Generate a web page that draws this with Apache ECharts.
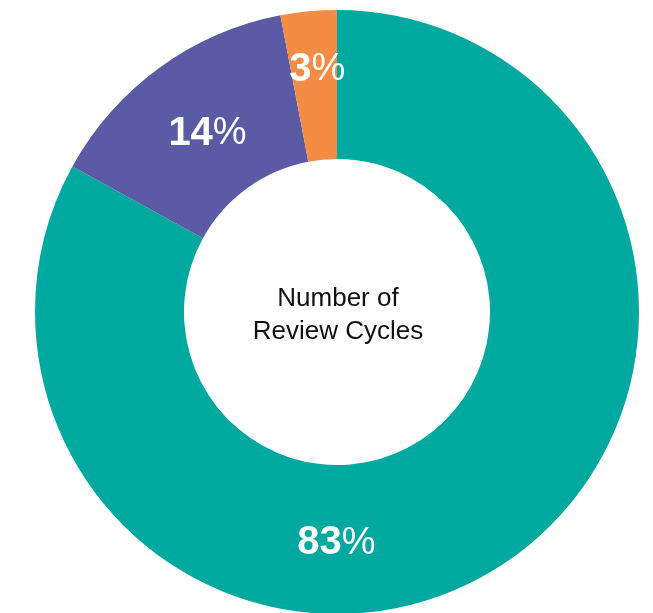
<!DOCTYPE html>
<html>
<head>
<meta charset="utf-8">
<script src="https://cdn.jsdelivr.net/npm/echarts@6/dist/echarts.min.js"></script>
<style>
html,body{margin:0;padding:0;background:#fff;}
#chart{width:653px;height:613px;}
</style>
</head>
<body>
<div id="chart"></div>
<script>
const categories = ['1 cycle', '2 cycles', '3+ cycles'];
const values = [83, 14, 3];
const colors = ['#00A99F', '#5B5BA5', '#F58C45'];
const labelOffsets = [[-118, 33], [6, 8], [2, -13]];
const centerText = 'Number of\nReview Cycles';

const chart = echarts.init(document.getElementById('chart'));
chart.setOption({
  animation: false,
  graphic: [{
    type: 'text',
    x: 338, y: 315,
    style: {
      text: centerText,
      fontFamily: 'Liberation Sans, Arial, sans-serif',
      fontSize: 26,
      lineHeight: 33,
      fill: '#111',
      textAlign: 'center',
      textVerticalAlign: 'middle'
    }
  }],
  series: [{
    type: 'pie',
    center: [337, 312],
    radius: [153, 302],
    startAngle: 90,
    clockwise: true,
    silent: true,
    itemStyle: { borderWidth: 0 },
    labelLine: { show: false },
    data: values.map((v, i) => ({
      name: categories[i],
      value: v,
      itemStyle: { color: colors[i] },
      label: {
        show: true,
        position: 'inside',
        offset: labelOffsets[i],
        formatter: '{n|' + v + '}{p|%}',
        rich: {
          n: { fontFamily: 'Liberation Sans, Arial, sans-serif', fontSize: 40, fontWeight: 'bold', color: '#fff' },
          p: { fontFamily: 'Liberation Sans, Arial, sans-serif', fontSize: 38, fontWeight: 'normal', color: '#fff' }
        }
      }
    }))
  }]
});
</script>
</body>
</html>
